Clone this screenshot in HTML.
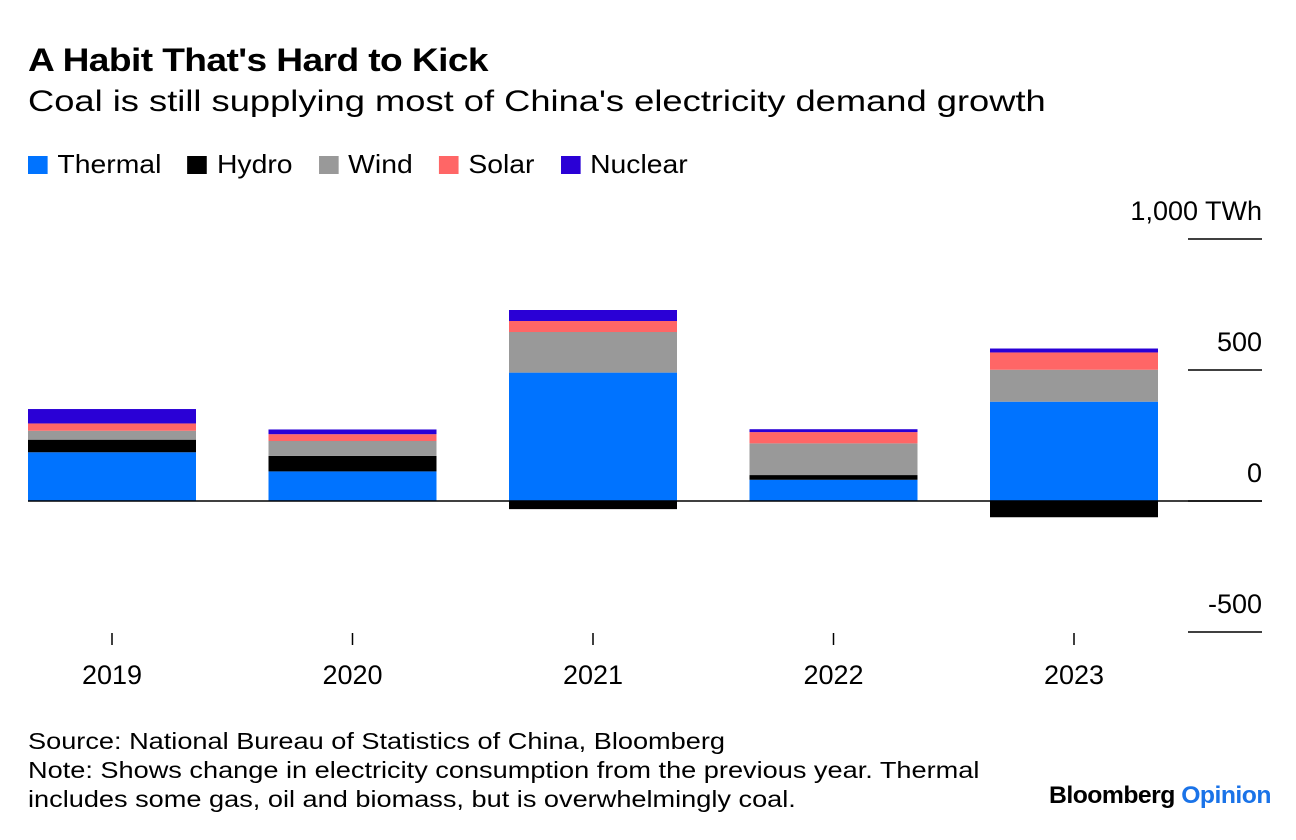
<!DOCTYPE html>
<html><head><meta charset="utf-8"><style>
body{margin:0;background:#fff;font-family:"Liberation Sans",Arial,sans-serif;}
.t{position:absolute;white-space:nowrap;color:#000;transform-origin:0 0}
</style></head><body>
<div style="position:relative;width:1296px;height:840px;overflow:hidden">
<div class="t" style="left:28px;top:42px;font-size:32px;font-weight:bold;letter-spacing:-0.5px;transform:scaleX(1.16)">A Habit That's Hard to Kick</div>
<div class="t" style="left:28px;top:85px;font-size:30px;transform:scaleX(1.21)">Coal is still supplying most of China's electricity demand growth</div>
<div id="legend" class="t" style="left:28px;top:149px;font-size:26px;display:flex;transform:scaleX(1.09)"></div>
<svg id="chart" width="1296" height="840" style="position:absolute;left:0;top:0"></svg>
<div class="t" style="left:28px;top:727px;font-size:23px;line-height:29px;transform:scaleX(1.18)">Source: National Bureau of Statistics of China, Bloomberg<br>Note: Shows change in electricity consumption from the previous year. Thermal<br>includes some gas, oil and biomass, but is overwhelmingly coal.</div>
<div class="t" style="left:1049px;top:782px;font-size:24px;font-weight:bold;letter-spacing:-0.5px;transform:scaleX(1.03)">Bloomberg <span style="color:#1a73e8">Opinion</span></div>
</div>
<script>
const years=["2019","2020","2021","2022","2023"];
const seriesNames=["Thermal","Hydro","Wind","Solar","Nuclear"];
const colors=["#0073ff","#000000","#999999","#ff6666","#2a00d6"];
const thermal=[186,113,490,81,379];
const hydro=[48,59,-31,18,-62];
const wind=[34,57,155,121,122];
const solar=[28,26,42,43,66];
const nuclear=[55,18,42,11,15];
const ticks=[1000,500,0,-500];
const tickLabels=["1,000 TWh","500","0","-500"];
const values=[thermal,hydro,wind,solar,nuclear];
const NS="http://www.w3.org/2000/svg";
const svg=document.getElementById('chart');
const y=v=>501-v*0.262;
const xc=i=>112+i*240.5;
const bw=168;
const FF='Liberation Sans, Arial, sans-serif';
function mk(tag,a){const e=document.createElementNS(NS,tag);for(const k in a)e.setAttribute(k,a[k]);svg.appendChild(e);return e;}
const lg=document.getElementById('legend');
seriesNames.forEach((n,i)=>{const s=document.createElement('span');


s.style.cssText='display:inline-flex;align-items:center;margin-right:24px';
s.innerHTML='<span style="display:inline-block;width:18px;height:18px;background:'+colors[i]+';margin-right:9px"></span>'+n;lg.appendChild(s);});
ticks.forEach((t,i)=>{
const l=mk('line',{x1:1188,x2:1262,y1:y(t),y2:y(t),stroke:'#000','stroke-width':1.5});


const tx=mk('text',{x:1262,y:y(t)-19,'text-anchor':'end','font-size':27,'font-family':FF});
tx.textContent=tickLabels[i];


});
years.forEach((yr,i)=>{
let pos=0,neg=0;
values.forEach((arr,s)=>{const v=arr[i];let y0,y1;
if(v>=0){y0=y(pos+v);y1=y(pos);pos+=v;}else{y0=y(neg);y1=y(neg+v);neg+=v;}
const r=mk('rect',{x:xc(i)-bw/2,y:y0,width:bw,height:Math.max(0,y1-y0),fill:colors[s]});


});
const tk=mk('line',{x1:xc(i),x2:xc(i),y1:633,y2:645,stroke:'#000','stroke-width':1.5});


const tl=mk('text',{x:xc(i),y:684,'text-anchor':'middle','font-size':27,'font-family':FF});
tl.textContent=yr;


});
const z=mk('line',{x1:28,x2:1262,y1:y(0),y2:y(0),stroke:'#000','stroke-width':1.5});


</script>
</body></html>
